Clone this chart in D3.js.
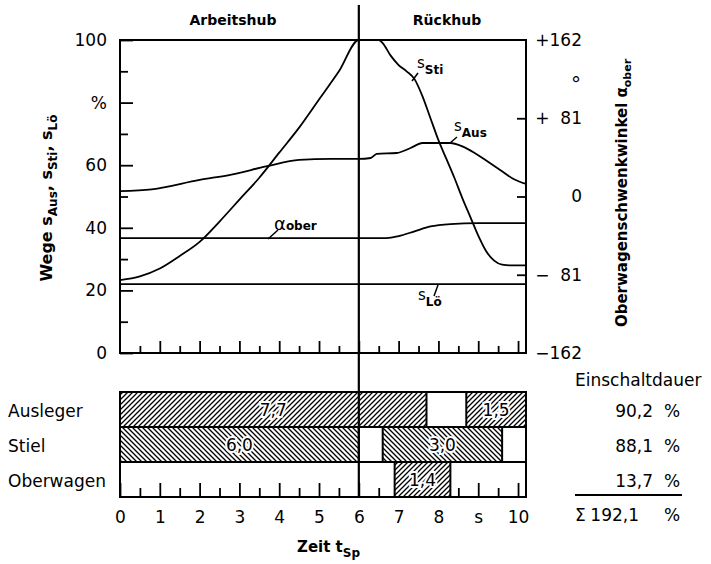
<!DOCTYPE html>
<html>
<head>
<meta charset="utf-8">
<script src="https://cdn.jsdelivr.net/npm/d3@7"></script>
<style>
body { margin: 0; background: #fff; }
text { font-family: "DejaVu Sans", sans-serif; fill: #000; }
</style>
</head>
<body>
<script>
// ---- data ----
var tSti = [0, 0.5, 1, 1.5, 2, 2.5, 3, 3.5, 4, 4.5, 5, 5.5, 6, 6.5, 6.6, 6.8, 7, 7.2, 7.4, 7.6, 7.8, 8, 8.2, 8.4, 8.6, 8.8, 9, 9.2, 9.4, 9.6, 9.8, 10.2];
var sSti = [23.3, 24.5, 27, 31, 35.5, 42, 49, 56, 64, 72, 81, 90, 100, 100, 99, 95, 92, 90, 87.5, 82, 75, 68, 62, 56, 49.5, 43.5, 37.5, 32.5, 29.5, 28.2, 28, 28];

var tAus = [0, 0.8, 2, 2.8, 3.7, 4.5, 5.3, 6, 6.3, 6.45, 6.95, 7.3, 7.6, 8.3, 8.6, 8.9, 9.2, 9.55, 9.9, 10.2];
var sAus = [51.7, 52.3, 55.3, 57, 59.7, 61.7, 62, 62, 62.3, 63.6, 63.9, 65.5, 67.1, 67.1, 66, 64, 61.5, 58.5, 55.5, 54];

var tAlpha = [0, 6.7, 7.0, 7.4, 7.8, 8.3, 9.0, 10.2];
var alphaOber = [-43, -43, -41, -36, -31, -28.5, -27.5, -27.5];

var tLoe = [0, 10.2];
var sLoe = [22, 22];

var rows = ["Ausleger", "Stiel", "Oberwagen"];
var barRow = ["Ausleger", "Ausleger", "Stiel", "Stiel", "Oberwagen"];
var barStart = [0, 8.7, 0, 6.6, 6.9];
var barDur = [7.7, 1.5, 6.0, 3.0, 1.4];
var einschalt = ["90,2", "88,1", "13,7"];
var einschaltSum = "192,1";

var leftTicks = [0, 20, 40, 60, 80, 100];
var leftLabels = ["0", "20", "40", "60", "%", "100"];
var rightTicks = [-162, -81, 0, 81, 162];
var rightLabels = ["\u2212162", "\u2212\u00a0\u00a081", "0", "+\u00a0\u00a081", "+162"];
var timeTicks = [0, 1, 2, 3, 4, 5, 6, 7, 8, 9, 10];
var timeLabels = ["0", "1", "2", "3", "4", "5", "6", "7", "8", "s", "10"];
var tCycle = 10.2, tSwitch = 6;

// ---- svg ----
var svg = d3.select("body").append("svg")
    .attr("width", 711)
    .attr("height", 564);

var x = d3.scaleLinear().domain([0, tCycle]).range([120, 526]);
var yL = d3.scaleLinear().domain([0, 100]).range([353, 40]);
var yR = d3.scaleLinear().domain([-162, 162]).range([353, 40]);
var yRow = d3.scaleBand().domain(rows).range([392, 497]);

// hatch patterns
var defs = svg.append("defs");
function hatch(id, dir) {
    var p = defs.append("pattern")
        .attr("id", id)
        .attr("patternUnits", "userSpaceOnUse")
        .attr("width", 5).attr("height", 5);
    p.append("rect").attr("width", 5).attr("height", 5).attr("fill", "#fff");
    var d = dir > 0 ? "M-1,1 L1,-1 M0,5 L5,0 M4,6 L6,4" : "M-1,4 L1,6 M0,0 L5,5 M4,-1 L6,1";
    p.append("path").attr("d", d).attr("stroke", "#000").attr("stroke-width", 1.3);
}
hatch("fwd", 1);
hatch("back", -1);

// titles above
svg.append("text").attr("x", 233).attr("y", 25).attr("text-anchor", "middle")
    .attr("font-size", 14).attr("font-weight", "bold").text("Arbeitshub");
svg.append("text").attr("x", 447).attr("y", 25).attr("text-anchor", "middle")
    .attr("font-size", 14).attr("font-weight", "bold").text("Rückhub");

// ---- upper chart axes ----
function clean(g) { g.select(".domain").remove(); g.selectAll("line").attr("stroke-width", 1.8); }

svg.append("g").attr("transform", "translate(120,0)")
    .call(d3.axisLeft(yL).tickValues([10, 30, 50, 70, 90]).tickSize(-8).tickFormat(""))
    .call(clean);
svg.append("g").attr("transform", "translate(120,0)")
    .call(d3.axisLeft(yL).tickValues(leftTicks).tickSize(-13).tickPadding(13)
        .tickFormat(function(d, i) { return leftLabels[i]; }))
    .call(clean)
    .selectAll("text").attr("font-size", 17).attr("font-family", "DejaVu Sans");

svg.append("g").attr("transform", "translate(526,0)")
    .call(d3.axisRight(yR).tickValues([-81, 0, 81]).tickSize(-9).tickFormat(""))
    .call(clean);
var rAx = svg.append("g").attr("transform", "translate(526,0)")
    .call(d3.axisRight(yR).tickValues(rightTicks).tickSize(0)
        .tickFormat(function(d, i) { return rightLabels[i]; }))
    .call(clean);
rAx.selectAll("text").attr("font-size", 17).attr("font-family", "DejaVu Sans")
    .attr("text-anchor", "end").attr("x", 56);
rAx.append("text").attr("x", 50).attr("y", yR(121.5) + 12).attr("text-anchor", "middle")
    .attr("font-size", 20).text("°");

svg.append("g").attr("transform", "translate(0,353)")
    .call(d3.axisBottom(x).tickValues(d3.range(0.5, 10, 1)).tickSize(-7).tickFormat(""))
    .call(clean);
svg.append("g").attr("transform", "translate(0,353)")
    .call(d3.axisBottom(x).tickValues(timeTicks.slice(1)).tickSize(-12).tickFormat(""))
    .call(clean);

svg.append("rect").attr("x", 120).attr("y", 40).attr("width", 406).attr("height", 313)
    .attr("fill", "none").attr("stroke", "#000").attr("stroke-width", 2);

// ---- curves ----
function curve(ts, vs, y) {
    var line = d3.line()
        .x(function(d) { return x(d[0]); })
        .y(function(d) { return y(d[1]); })
        .curve(d3.curveMonotoneX);
    svg.append("path")
        .datum(d3.zip(ts, vs))
        .attr("d", line)
        .attr("fill", "none")
        .attr("stroke", "#000")
        .attr("stroke-width", 1.8);
}
curve(tAus, sAus, yL);
curve(tSti, sSti, yL);
curve(tLoe, sLoe, yL);
curve(tAlpha, alphaOber, yR);

// curve labels with leader lines
function leader(x1, y1, x2, y2) {
    svg.append("line").attr("x1", x1).attr("y1", y1).attr("x2", x2).attr("y2", y2)
        .attr("stroke", "#000").attr("stroke-width", 1.5);
}
function tag(xp, yp, main, sub, mainSize, subDy) {
    var t = svg.append("text").attr("x", xp).attr("y", yp);
    t.append("tspan").attr("font-size", mainSize).text(main);
    t.append("tspan").attr("font-size", 12).attr("font-weight", "bold").attr("dy", subDy).text(sub);
}
leader(412, 81, 418, 73);
tag(417, 68, "s", "Sti", 15, 6);
leader(450, 143, 457, 137);
tag(454, 131, "s", "Aus", 15, 6);
leader(268, 239, 278, 230);
tag(274, 230, "\u03b1", "ober", 18, 0);
leader(438, 285, 434, 296);
tag(418, 300, "s", "L\u00f6", 15, 6);

// axis titles
var lt = svg.append("text")
    .attr("transform", "translate(52,198) rotate(-90)")
    .attr("text-anchor", "middle").attr("font-size", 16).attr("font-weight", "bold");
lt.append("tspan").text("Wege s");
lt.append("tspan").attr("font-size", 12).attr("dy", 5).text("Aus");
lt.append("tspan").attr("dy", -5).text(", s");
lt.append("tspan").attr("font-size", 12).attr("dy", 5).text("Sti");
lt.append("tspan").attr("dy", -5).text(", s");
lt.append("tspan").attr("font-size", 12).attr("dy", 5).text("L\u00f6");

var rt = svg.append("text")
    .attr("transform", "translate(627,193) rotate(-90)")
    .attr("text-anchor", "middle").attr("font-size", 15).attr("font-weight", "bold");
rt.append("tspan").text("Oberwagenschwenkwinkel \u03b1");
rt.append("tspan").attr("font-size", 11).attr("dy", 4).text("ober");

// ---- lower chart ----
svg.append("g").attr("transform", "translate(0,497)")
    .call(d3.axisBottom(x).tickValues(d3.range(0.5, 10, 1)).tickSize(-9).tickFormat(""))
    .call(clean);
var bAx = svg.append("g").attr("transform", "translate(0,497)")
    .call(d3.axisBottom(x).tickValues(timeTicks).tickSize(-14).tickPadding(14)
        .tickFormat(function(d, i) { return timeLabels[i]; }))
    .call(clean);
bAx.selectAll("text").attr("font-size", 17).attr("font-family", "DejaVu Sans");

var bars = barRow.map(function(r, i) {
    return { row: r, start: barStart[i], dur: barDur[i] };
});
svg.selectAll("rect.bar").data(bars).enter().append("rect")
    .attr("class", "bar")
    .attr("x", function(d) { return x(d.start); })
    .attr("y", function(d) { return yRow(d.row); })
    .attr("width", function(d) { return x(d.start + d.dur) - x(d.start); })
    .attr("height", yRow.bandwidth())
    .attr("fill", function(d) { return d.row === "Stiel" ? "url(#back)" : "url(#fwd)"; })
    .attr("stroke", "#000")
    .attr("stroke-width", 2);

svg.selectAll("text.barlab").data(bars).enter().append("text")
    .attr("class", "barlab")
    .attr("x", function(d) { return x(d.start + d.dur / 2); })
    .attr("y", function(d) { return yRow(d.row) + yRow.bandwidth() / 2; })
    .attr("dy", "0.36em")
    .attr("text-anchor", "middle")
    .attr("font-size", 17)
    .attr("stroke", "#fff").attr("stroke-width", 4).attr("paint-order", "stroke")
    .text(function(d) { return d.dur.toFixed(1).replace(".", ","); });

rows.forEach(function(r, i) {
    if (i > 0) {
        svg.append("line").attr("x1", 120).attr("x2", 526)
            .attr("y1", yRow(r)).attr("y2", yRow(r))
            .attr("stroke", "#000").attr("stroke-width", 2);
    }
    svg.append("text").attr("x", 8).attr("y", yRow(r) + yRow.bandwidth() / 2 + 1)
        .attr("dy", "0.36em").attr("font-size", 17).text(r);
    svg.append("text").attr("x", 653).attr("y", yRow(r) + yRow.bandwidth() / 2 + 1)
        .attr("dy", "0.36em").attr("font-size", 17).attr("text-anchor", "end").text(einschalt[i]);
    svg.append("text").attr("x", 664).attr("y", yRow(r) + yRow.bandwidth() / 2 + 1)
        .attr("dy", "0.36em").attr("font-size", 17).text("%");
});
svg.append("rect").attr("x", 120).attr("y", 392).attr("width", 406).attr("height", 105)
    .attr("fill", "none").attr("stroke", "#000").attr("stroke-width", 2);

svg.append("text").attr("x", 575).attr("y", 386).attr("font-size", 17).text("Einschaltdauer");
svg.append("line").attr("x1", 575).attr("x2", 682).attr("y1", 495).attr("y2", 495)
    .attr("stroke", "#000").attr("stroke-width", 2);
svg.append("text").attr("x", 575).attr("y", 521).attr("font-size", 17).text("\u03a3");
svg.append("text").attr("x", 639).attr("y", 521).attr("font-size", 17).attr("text-anchor", "end").text(einschaltSum);
svg.append("text").attr("x", 664).attr("y", 521).attr("font-size", 17).text("%");

// x title
var xt = svg.append("text").attr("x", 297).attr("y", 552).attr("font-size", 15).attr("font-weight", "bold");
xt.append("tspan").text("Zeit  t");
xt.append("tspan").attr("font-size", 12).attr("dy", 5).text("Sp");

// switch line at end of Arbeitshub
svg.append("line").attr("x1", x(tSwitch)).attr("x2", x(tSwitch))
    .attr("y1", 5).attr("y2", 497)
    .attr("stroke", "#000").attr("stroke-width", 2.2);
</script>
</body>
</html>
